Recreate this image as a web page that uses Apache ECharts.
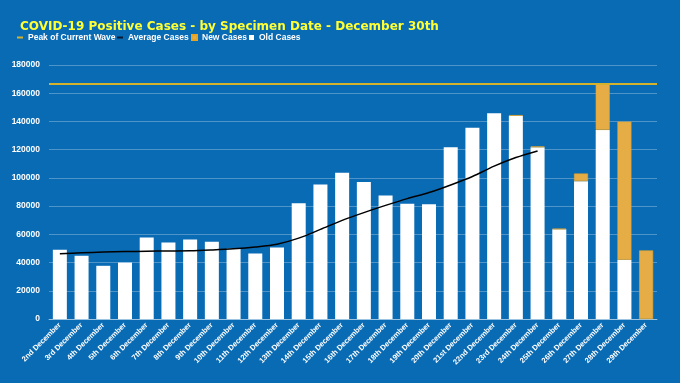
<!DOCTYPE html>
<html><head><meta charset="utf-8">
<script src="https://cdn.jsdelivr.net/npm/echarts@6/dist/echarts.min.js"></script>
<style>html,body{margin:0;padding:0;background:#0a6bb5;}#c{width:680px;height:383px;}</style>
</head><body><div id="c"></div>
<script>
const categories = ["2nd December","3rd December","4th December","5th December","6th December","7th December","8th December","9th December","10th December","11th December","12th December","13th December","14th December","15th December","16th December","17th December","18th December","19th December","20th December","21st December","22nd December","23rd December","24th December","25th December","26th December","27th December","28th December","29th December"];
const oldCases = [49000,44800,37700,40000,57800,54200,56300,54700,50000,46400,50600,82000,95300,103700,97100,87600,81600,81400,121700,135600,145800,144000,121700,63600,97700,134000,42000,0];
const newCases = [0,0,0,0,0,0,0,0,0,0,0,0,0,0,0,0,0,0,0,0,0,500,600,400,5400,32600,97900,48600];
const averageCases = [46200,46900,47400,47800,48000,48200,48300,48900,49700,51000,53000,57300,63500,69900,75400,80500,85300,89600,95000,101000,108300,114400,119100];
const peakOfWave = 166700;

const chart = echarts.init(document.getElementById('c'));
const font = 'Liberation Sans, Arial, sans-serif';
const legendText = {color:'#fff', fontWeight:'bold', fontSize:8.5, fontFamily:font};
chart.setOption({
  backgroundColor:'#0a6bb5',
  animation:false,
  title:{text:'COVID-19 Positive Cases - by Specimen Date - December 30th', left:15, top:16,
    textStyle:{color:'#ffff33', fontSize:12, fontWeight:'bold', fontFamily:'DejaVu Sans, Verdana, sans-serif'}},
  legend:[
    {data:['Peak of Current Wave'], left:17, top:33, itemWidth:6, itemHeight:2, icon:'rect', textStyle:legendText, padding:0},
    {data:['Average Cases'], left:117, top:33, itemWidth:6, itemHeight:2, icon:'rect', textStyle:legendText, padding:0},
    {data:['New Cases'], left:191, top:33, itemWidth:5, itemHeight:5, icon:'rect', textStyle:legendText, padding:0},
    {data:['Old Cases'], left:249, top:33, itemWidth:5, itemHeight:5, icon:'rect', textStyle:legendText, padding:0}
  ],
  grid:{left:49, right:23, top:65, bottom:64},
  xAxis:{type:'category', data:categories,
    axisLine:{lineStyle:{color:'rgba(255,255,255,0.45)'}}, axisTick:{show:false},
    axisLabel:{rotate:45, interval:0, color:'#fff', fontWeight:'bold', fontSize:7.5, fontFamily:font, margin:5}},
  yAxis:{type:'value', min:0, max:180000, interval:20000,
    axisLine:{show:false}, axisTick:{show:false},
    splitLine:{lineStyle:{color:'rgba(255,255,255,0.28)', width:1}},
    axisLabel:{color:'#fff', fontWeight:'bold', fontSize:8.5, fontFamily:font, margin:9, formatter:v => String(v)}},
  series:[
    {name:'Old Cases', type:'bar', stack:'c', data:oldCases.map(v => v || null), barWidth:14,
      itemStyle:{color:'#ffffff'}},
    {name:'New Cases', type:'bar', stack:'c', data:newCases.map(v => v || null), barWidth:14,
      itemStyle:{color:'#e6ad47', borderColor:'#e7a527', borderWidth:0.6}},
    {name:'Average Cases', type:'line', data:averageCases, smooth:0.3, symbol:'none',
      lineStyle:{color:'#000000', width:1.5}, itemStyle:{color:'#0a1a33'}, z:5},
    {name:'Peak of Current Wave', type:'line', data:[], symbol:'none',
      itemStyle:{color:'#d4b22c'}, lineStyle:{color:'#d4b22c'},
      markLine:{silent:true, symbol:'none', label:{show:false},
        lineStyle:{color:'#d4b22c', width:2, type:'solid'}, data:[{yAxis:peakOfWave}]}}
  ]
});
</script></body></html>
